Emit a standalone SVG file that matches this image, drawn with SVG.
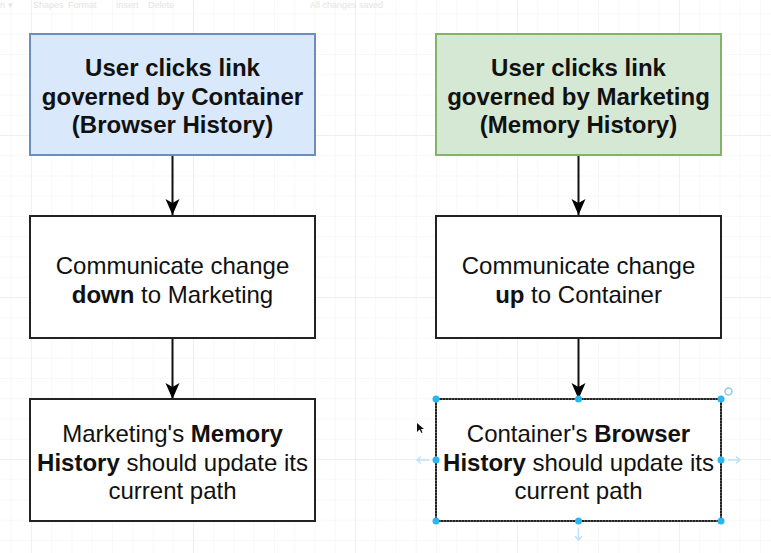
<svg xmlns="http://www.w3.org/2000/svg" width="771" height="553" viewBox="0 0 771 553">
<defs>
<pattern id="minor" x="31" y="135" width="20.25" height="20.25" patternUnits="userSpaceOnUse">
<path d="M0 0V20.25M0 0H20.25" fill="none" stroke="#f1f1f1" stroke-width="1"/>
</pattern>
<pattern id="major" x="31" y="135" width="162" height="162" patternUnits="userSpaceOnUse">
<path d="M0 0V162M0 0H162" fill="none" stroke="#e6e6e6" stroke-width="1"/>
</pattern>
<marker id="arr" viewBox="0 0 16 16" refX="16" refY="8" markerWidth="16" markerHeight="16" markerUnits="userSpaceOnUse" orient="auto">
<path d="M16 8L0 1L4 8L0 15Z" fill="#000"/>
</marker>
</defs>
<style>
.t{font-family:"Liberation Sans",Arial,Helvetica,sans-serif;font-size:24px;fill:#111;text-anchor:middle}
.b{font-weight:bold}
.box{fill:#fff;stroke:#222;stroke-width:2}
.edge{fill:none;stroke:#111;stroke-width:2;marker-end:url(#arr)}
.tb{font-family:"Liberation Sans",Arial,sans-serif;font-size:9px;fill:#e4e4e4}
.h{fill:#29b6f2}
.ha{fill:none;stroke:#bfe1f5;stroke-width:1.5}
</style>
<rect width="771" height="553" fill="#fff"/>
<rect width="771" height="553" fill="url(#minor)"/>
<rect width="771" height="553" fill="url(#major)"/>
<g id="toolbar">
<text class="tb" x="0" y="8">n ▾</text>
<text class="tb" x="33" y="8">Shapes</text>
<text class="tb" x="68" y="8">Format</text>
<text class="tb" x="116" y="8">Insert</text>
<text class="tb" x="148" y="8">Delete</text>
<text class="tb" x="310" y="8">All changes saved</text>
</g>
<g id="connectors">
<line class="edge" x1="172.5" y1="155" x2="172.5" y2="215"/>
<line class="edge" x1="172.5" y1="338" x2="172.5" y2="399"/>
<line class="edge" x1="578.5" y1="155" x2="578.5" y2="215"/>
<line class="edge" x1="578.5" y1="338" x2="578.5" y2="399"/>
</g>
<g id="n1">
<rect x="30" y="34" width="285" height="121" fill="#dae8fc" stroke="#6c8ebf" stroke-width="2"/>
<text class="t b" x="172.5" y="76">User clicks link</text>
<text class="t b" x="172.5" y="104.5">governed by Container</text>
<text class="t b" x="172.5" y="133">(Browser History)</text>
</g>
<g id="n2">
<rect x="436" y="34" width="285" height="121" fill="#d5e8d4" stroke="#82b366" stroke-width="2"/>
<text class="t b" x="578.5" y="76">User clicks link</text>
<text class="t b" x="578.5" y="104.5">governed by Marketing</text>
<text class="t b" x="578.5" y="133">(Memory History)</text>
</g>
<g id="n3">
<rect class="box" x="30" y="216" width="285" height="122"/>
<text class="t" x="172.5" y="274">Communicate change</text>
<text class="t" x="172.5" y="303"><tspan class="b">down</tspan> to Marketing</text>
</g>
<g id="n4">
<rect class="box" x="436" y="216" width="285" height="122"/>
<text class="t" x="578.5" y="274">Communicate change</text>
<text class="t" x="578.5" y="303"><tspan class="b">up</tspan> to Container</text>
</g>
<g id="n5">
<rect class="box" x="30" y="399" width="285" height="122"/>
<text class="t" x="172.5" y="442">Marketing's <tspan class="b">Memory</tspan></text>
<text class="t" x="172.5" y="470.5"><tspan class="b">History</tspan> should update its</text>
<text class="t" x="172.5" y="499">current path</text>
</g>
<g id="n6">
<rect class="box" x="436" y="399" width="285" height="122"/>
<rect x="436" y="399" width="285" height="122" fill="none" stroke="#999" stroke-width="1" stroke-dasharray="1 2"/>
<text class="t" x="578.5" y="442">Container's <tspan class="b">Browser</tspan></text>
<text class="t" x="578.5" y="470.5"><tspan class="b">History</tspan> should update its</text>
<text class="t" x="578.5" y="499">current path</text>
</g>
<g id="selection">
<circle class="h" cx="436" cy="399" r="3.5"/>
<circle class="h" cx="578.5" cy="399" r="3.5"/>
<circle class="h" cx="721" cy="399" r="3.5"/>
<circle class="h" cx="436" cy="460" r="3.5"/>
<circle class="h" cx="721" cy="460" r="3.5"/>
<circle class="h" cx="436" cy="521" r="3.5"/>
<circle class="h" cx="578.5" cy="521" r="3.5"/>
<circle class="h" cx="721" cy="521" r="3.5"/>
<circle cx="728.5" cy="391.5" r="3.5" fill="none" stroke="#8ccbf0" stroke-width="1.5"/>
<path class="ha" d="M429 460H417M421 456.5L417 460L421 463.5"/>
<path class="ha" d="M728 460H740M736 456.5L740 460L736 463.5"/>
<path class="ha" d="M578.5 528V540M575 536L578.5 540L582 536"/>
</g>
<path id="cursor" d="M417 423L417 432L419.5 429.5L421.5 433L422.5 432.5L421 429L424 429Z" fill="#111"/>
</svg>
